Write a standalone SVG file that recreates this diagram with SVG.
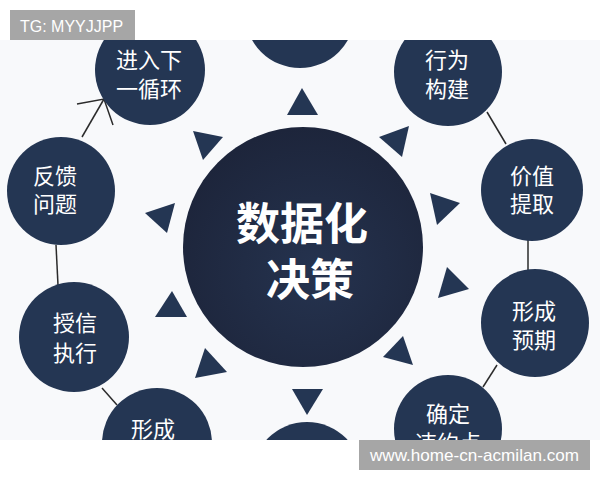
<svg xmlns="http://www.w3.org/2000/svg" width="600" height="480" viewBox="0 0 600 480">
<defs>
<style>
.node{fill:#243653}
.tri{fill:#243653}
.lbl{fill:#ffffff;font-family:"Noto Sans CJK SC","Noto Sans",sans-serif;font-size:22px;text-anchor:middle;dominant-baseline:central}
.big{fill:#ffffff;font-family:"Noto Sans CJK SC","Noto Sans",sans-serif;font-size:44px;font-weight:bold;text-anchor:middle;dominant-baseline:central}
.conn{stroke:#2b2b2b;stroke-width:1.5;fill:none}
.wm{fill:#ffffff;font-family:"Liberation Sans",Arial,sans-serif}
</style>
<radialGradient id="cg" cx="0.55" cy="0.6" r="0.6">
<stop offset="0" stop-color="#25334f"/>
<stop offset="1" stop-color="#1d253b"/>
</radialGradient>
<clipPath id="pic"><rect x="0" y="40" width="600" height="400"/></clipPath>
</defs>
<rect width="600" height="480" fill="#ffffff"/>
<g clip-path="url(#pic)">
<rect x="0" y="40" width="600" height="400" fill="#f8f9fb"/>
<g id="connectors">
<line class="conn" x1="487" y1="112" x2="506" y2="144"/>
<line class="conn" x1="528" y1="240" x2="528" y2="270"/>
<line class="conn" x1="497" y1="365" x2="483" y2="387"/>
<line class="conn" x1="102" y1="388" x2="117" y2="405"/>
<line class="conn" x1="56" y1="245" x2="58" y2="285"/>
<line class="conn" x1="82" y1="137" x2="104" y2="99"/>
<polyline class="conn" stroke-width="2.5" points="77,104 104,99 113,125"/>
</g>
<g id="center">
<circle cx="303" cy="247" r="120" fill="url(#cg)"/>
<text class="big"><tspan x="302" y="221">数据化</tspan><tspan x="310" y="277">决策</tspan></text>
</g>
<g id="triangles">
<polygon class="tri" points="302,88 287,115 318,115"/>
<polygon class="tri" points="193,131 223,137 203,160"/>
<polygon class="tri" points="409,126 379,137 402,157"/>
<polygon class="tri" points="145,213 175,203 167,233"/>
<polygon class="tri" points="430,193 460,203 437,225"/>
<polygon class="tri" points="172,291 155,317 187,317"/>
<polygon class="tri" points="447,267 469,289 438,298"/>
<polygon class="tri" points="205,348 227,372 195,378"/>
<polygon class="tri" points="403,336 413,365 383,357"/>
<polygon class="tri" points="292,389 323,389 307,415"/>
</g>
<g id="node-top"><circle class="node" cx="300" cy="13" r="55"/></g>
<g id="node-next-cycle">
<circle class="node" cx="150" cy="70" r="55"/>
<text class="lbl"><tspan x="149" y="57.5">进入下</tspan><tspan x="149" y="87">一循环</tspan></text>
</g>
<g id="node-behavior">
<circle class="node" cx="448" cy="72" r="54"/>
<text class="lbl"><tspan x="447" y="57.5">行为</tspan><tspan x="447" y="87">构建</tspan></text>
</g>
<g id="node-value">
<circle class="node" cx="532" cy="190" r="51"/>
<text class="lbl"><tspan x="532" y="173.5">价值</tspan><tspan x="532" y="202">提取</tspan></text>
</g>
<g id="node-expect">
<circle class="node" cx="535" cy="323" r="54"/>
<text class="lbl"><tspan x="534" y="309">形成</tspan><tspan x="534" y="337.5">预期</tspan></text>
</g>
<g id="node-default">
<circle class="node" cx="448" cy="429" r="54"/>
<text class="lbl"><tspan x="448" y="412">确定</tspan><tspan x="448" y="441">违约点</tspan></text>
</g>
<g id="node-bottom"><circle class="node" cx="307" cy="477" r="55"/></g>
<g id="node-form">
<circle class="node" cx="157" cy="443" r="55"/>
<text class="lbl" x="153" y="427">形成</text>
</g>
<g id="node-credit">
<circle class="node" cx="74" cy="337" r="55"/>
<text class="lbl"><tspan x="75" y="321">授信</tspan><tspan x="75" y="351">执行</tspan></text>
</g>
<g id="node-feedback">
<circle class="node" cx="61" cy="191" r="54"/>
<text class="lbl"><tspan x="55" y="173.5">反馈</tspan><tspan x="55" y="202">问题</tspan></text>
</g>
</g>
<g id="watermark-top">
<rect x="10" y="10" width="125" height="30" fill="#a6a6a6"/>
<text class="wm" x="20" y="32" font-size="16">TG: MYYJJPP</text>
</g>
<g id="watermark-bottom">
<rect x="359" y="440" width="231" height="30" fill="#a6a6a6"/>
<text class="wm" x="370" y="461" font-size="17" textLength="209" lengthAdjust="spacingAndGlyphs">www.home-cn-acmilan.com</text>
</g>
</svg>
